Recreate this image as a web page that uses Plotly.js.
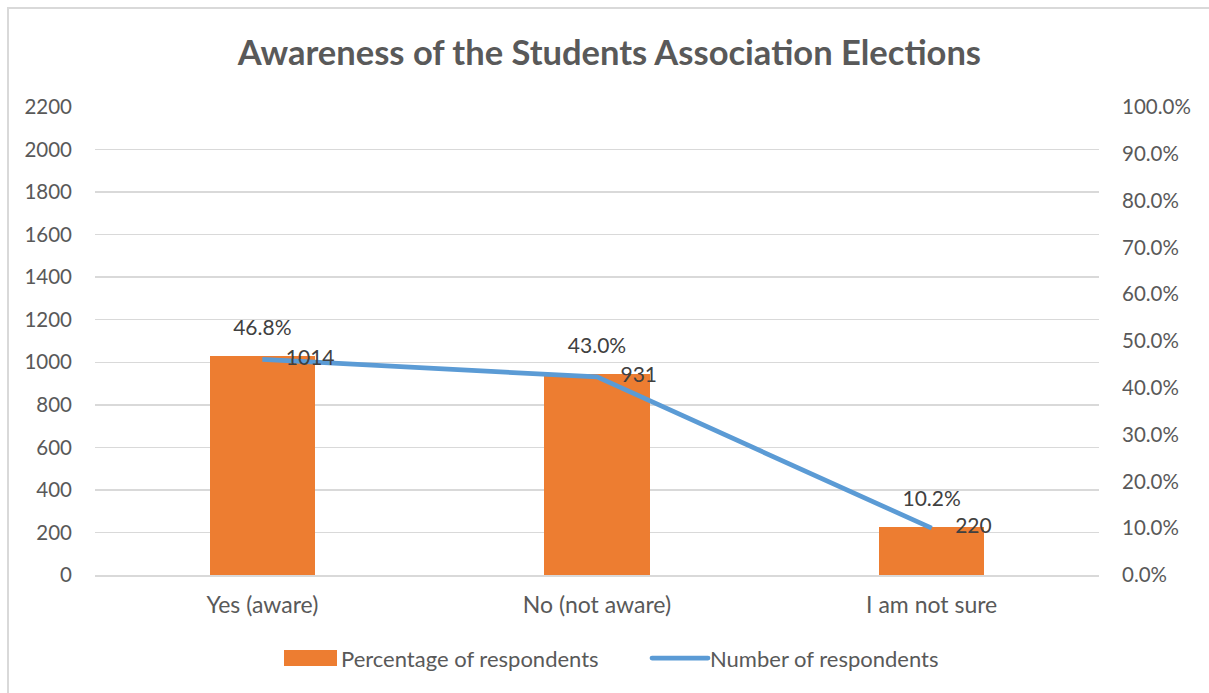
<!DOCTYPE html>
<html>
<head>
<meta charset="utf-8">
<script src="https://cdn.plot.ly/plotly-3.0.1.min.js"></script>
<style>
html,body{margin:0;padding:0;background:#fff;}
#wrap{position:relative;width:1209px;height:693px;overflow:hidden;}
#chart{position:absolute;left:0;top:0;width:1209px;height:693px;}
#frame{position:absolute;left:7px;top:7px;width:1210px;height:700px;border-left:2px solid #d9d9d9;border-top:2px solid #d9d9d9;pointer-events:none;}
</style>
</head>
<body>
<div id="wrap"><div id="chart"></div><div id="frame"></div></div>
<script>
const categories = ["Yes (aware)", "No (not aware)", "I am not sure"];
const percentValues = [0.468, 0.430, 0.102];
const percentLabels = ["46.8%", "43.0%", "10.2%"];
const numberValues = [1014, 931, 220];
const numberLabels = ["1014", "931", "220"];

const FONT = "Lato, 'Open Sans', sans-serif";
const TXT = "#595959";
const LBL = "#404040";

// bars on primary (right, percent) axis, line on overlaying (left, count) axis so the line is drawn above bars
const barTrace = {
  type: "bar",
  name: "Percentage of respondents",
  x: categories,
  y: percentValues,
  yaxis: "y",
  marker: {color: "#ED7D31"},
  width: 0.315,
  hoverinfo: "skip"
};
const barLabels = {
  type: "scatter",
  mode: "markers+text",
  x: categories,
  y: percentValues,
  yaxis: "y",
  text: percentLabels,
  textposition: "top center",
  textfont: {size: 21, color: LBL, family: FONT},
  marker: {size: 24, opacity: 0, color: "rgba(0,0,0,0)"},
  showlegend: false,
  hoverinfo: "skip"
};
const lineTrace = {
  type: "scatter",
  mode: "lines+markers+text",
  name: "Number of respondents",
  x: categories,
  y: numberValues,
  yaxis: "y2",
  text: numberLabels,
  textposition: "middle right",
  textfont: {size: 21, color: LBL, family: FONT},
  line: {color: "#5B9BD5", width: 4.75},
  marker: {size: 36, opacity: 0, color: "rgba(0,0,0,0)"},
  hoverinfo: "skip"
};

const layout = {
  width: 1209,
  height: 693,
  margin: {l: 95, r: 110, t: 107, b: 118},
  paper_bgcolor: "rgba(0,0,0,0)",
  plot_bgcolor: "#fff",
  font: {family: FONT, color: TXT, size: 20},
  title: {
    text: "<b>Awareness of the Students Association Elections</b>",
    font: {size: 34.5, color: TXT, family: FONT},
    x: 0.504, xanchor: "center", y: 0.923, yanchor: "middle"
  },
  showlegend: true,
  legend: {
    orientation: "h",
    x: 0.1753, xanchor: "left",
    y: -0.178, yanchor: "middle",
    font: {size: 22, color: TXT, family: FONT},
    itemwidth: 60,
    entrywidth: 294,
    entrywidthmode: "pixels",
    traceorder: "normal",
    tracegroupgap: 0
  },
  bargap: 0,
  xaxis: {
    type: "category",
    showgrid: false,
    showline: true,
    linecolor: "#d9d9d9",
    linewidth: 1.5,
    ticks: "",
    tickfont: {size: 23, color: TXT, family: FONT},
    ticklabelstandoff: 9,
    fixedrange: true
  },
  yaxis: {
    side: "right",
    range: [0, 1],
    dtick: 0.1,
    tick0: 0,
    tickformat: ".1%",
    showgrid: false,
    zeroline: false,
    showline: false,
    ticks: "",
    ticklabelstandoff: 22,
    tickfont: {size: 20.5, color: TXT, family: FONT},
    fixedrange: true
  },
  yaxis2: {
    overlaying: "y",
    side: "left",
    range: [0, 2200],
    dtick: 200,
    tick0: 0,
    showgrid: true,
    gridcolor: "#d9d9d9",
    gridwidth: 1.5,
    zeroline: false,
    showline: false,
    ticks: "",
    ticklabelstandoff: 22,
    tickfont: {size: 20.5, color: TXT, family: FONT},
    fixedrange: true
  }
};

function restyleLegend(gd){
  const items = gd.querySelectorAll(".legend .traces");
  items.forEach(function(it){
    const dd = it.__data__;
    const tr = dd && dd[0] && dd[0].trace;
    if (!tr) return;
    if (tr.type === "bar") {
      it.querySelectorAll(".legendpoints path").forEach(function(p){
        p.setAttribute("d", "M-22,-8H31V8H-22Z");
      });
    } else {
      it.querySelectorAll(".legendlines path").forEach(function(p){
        p.setAttribute("d", "M12,0H68");
        p.style.strokeLinecap = "round";
      });
      it.querySelectorAll(".legendpoints path").forEach(function(p){
        p.style.display = "none";
      });
    }
  });
}

Plotly.newPlot("chart", [barTrace, lineTrace, barLabels], layout, {displayModeBar: false, staticPlot: true}).then(function(gd){
  restyleLegend(gd);
  setTimeout(function(){ restyleLegend(gd); }, 50);
});
</script>
</body>
</html>
